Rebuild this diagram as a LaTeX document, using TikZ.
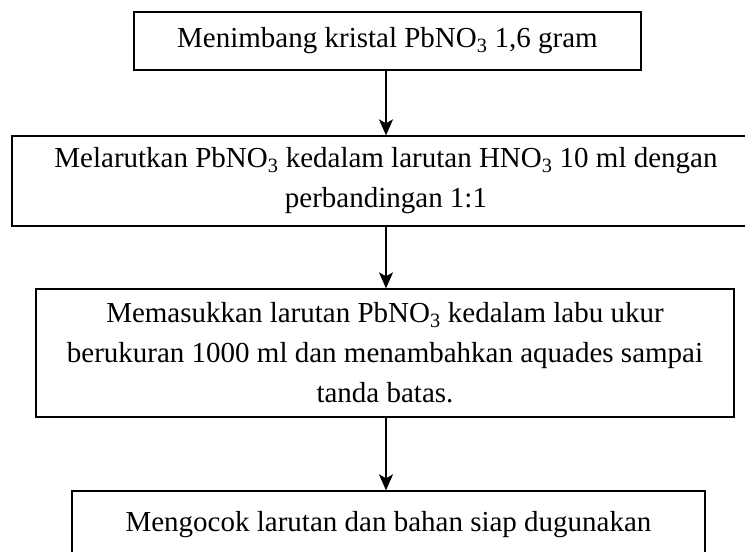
\documentclass[tikz,border=0pt]{standalone}
\usepackage{fontspec}
\setmainfont{Liberation Serif}
\usetikzlibrary{arrows.meta}
\begin{document}
\begin{tikzpicture}[x=1pt,y=-1pt,
  stepbox/.style={draw, line width=1.3pt, rectangle, inner sep=0pt, align=center,
    font=\fontsize{29}{40}\selectfont},
  flow/.style={line width=1.5pt, -{Stealth[length=16pt,width=14pt,inset=4pt]}}]
\useasboundingbox (0,0) rectangle (745,552);
\clip (0,0) rectangle (745,552);
\node[stepbox, minimum width=507pt, minimum height=58pt] (b1) at (387.5,41)
  {Menimbang kristal PbNO\textsubscript{3} 1,6 gram};
\node[stepbox, minimum width=748pt, minimum height=90pt] (b2) at (386,181)
  {Melarutkan PbNO\textsubscript{3} kedalam larutan HNO\textsubscript{3} 10 ml dengan\\perbandingan 1:1};
\node[stepbox, minimum width=698pt, minimum height=128pt] (b3) at (385,353)
  {Memasukkan larutan PbNO\textsubscript{3} kedalam labu ukur\\berukuran 1000 ml dan menambahkan aquades sampai\\tanda batas.};
\node[stepbox, minimum width=633pt, minimum height=67pt] (b4) at (388.5,524.5)
  {Mengocok larutan dan bahan siap dugunakan};
\coordinate (a1) at (386,0);
\draw[flow] (a1 |- b1.south) -- (a1 |- b2.north);
\draw[flow] (a1 |- b2.south) -- (a1 |- b3.north);
\draw[flow] (a1 |- b3.south) -- (a1 |- b4.north);
\end{tikzpicture}
\end{document}
